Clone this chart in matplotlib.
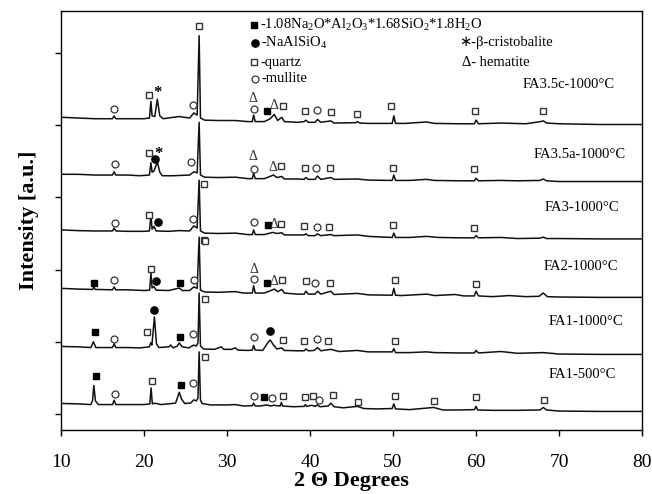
"""XRD patterns of fly-ash geopolymer samples (stacked traces, markers per phase)."""

import matplotlib
matplotlib.use("Agg")
import matplotlib.pyplot as plt

plt.rcParams["font.family"] = ["Liberation Serif", "DejaVu Sans"]
plt.rcParams["mathtext.default"] = "regular"

# --- traces: 2theta (deg) and stacked intensity (a.u.) ---
FA1_500_X = [10.0, 12.0, 13.6, 13.8, 13.95, 14.15, 14.5, 16.2, 16.4, 16.6, 18.0, 20.0, 20.7, 20.85,
             21.0, 21.3, 22.0, 23.0, 23.8, 24.1, 24.25, 24.5, 24.9, 25.6, 26.0, 26.3, 26.5, 26.64,
             26.8, 27.0, 28.0, 30.0, 31.0, 32.0, 33.05, 33.2, 33.4, 34.0, 34.8, 35.3, 35.6, 36.4,
             36.55, 36.7, 38.0, 39.3, 39.45, 39.6, 40.2, 40.6, 40.9, 41.2, 42.2, 42.5, 42.9, 44.0,
             45.7, 46.5, 48.0, 49.9, 50.1, 50.3, 52.0, 54.9, 56.0, 58.0, 59.8, 60.0, 60.2, 62.0,
             65.0, 67.7, 68.1, 68.5, 70.0, 75.0, 80.0]
FA1_500_Y = [0.145, 0.14, 0.13, 0.19, 0.395, 0.18, 0.13, 0.13, 0.19, 0.13, 0.13, 0.13, 0.14, 0.36,
             0.14, 0.15, 0.13, 0.14, 0.15, 0.25, 0.30, 0.21, 0.145, 0.15, 0.195, 0.18, 0.22, 0.86,
             0.19, 0.145, 0.125, 0.125, 0.13, 0.11, 0.115, 0.15, 0.11, 0.11, 0.125, 0.11, 0.12, 0.11,
             0.16, 0.11, 0.10, 0.105, 0.13, 0.105, 0.12, 0.105, 0.125, 0.10, 0.11, 0.15, 0.10, 0.085,
             0.105, 0.075, 0.07, 0.075, 0.14, 0.07, 0.06, 0.09, 0.055, 0.055, 0.06, 0.105, 0.055, 0.05,
             0.05, 0.055, 0.09, 0.055, 0.04, 0.035, 0.035]

FA1_1000_X = [10.0, 12.0, 13.6, 13.9, 14.2, 16.2, 16.4, 16.6, 18.0, 19.5, 20.65, 20.8, 20.95, 21.25,
              21.5, 21.8, 23.0, 23.2, 23.5, 24.0, 24.25, 24.6, 25.4, 26.0, 26.3, 26.5, 26.64, 26.8,
              27.2, 28.5, 29.3, 29.6, 30.5, 31.0, 31.3, 32.5, 33.05, 33.2, 33.4, 34.3, 34.9, 35.2,
              35.6, 36.0, 36.6, 36.9, 38.5, 39.3, 39.5, 39.8, 40.5, 40.9, 41.3, 42.5, 43.5, 45.7,
              47.0, 49.9, 50.1, 50.3, 52.0, 54.0, 55.0, 58.0, 59.8, 60.0, 60.3, 63.0, 65.0, 68.1,
              70.0, 75.0, 80.0]
FA1_1000_Y = [0.935, 0.93, 0.92, 1.00, 0.92, 0.92, 0.97, 0.92, 0.92, 0.915, 0.93, 0.985, 0.955, 1.345,
              0.97, 0.92, 0.93, 0.955, 0.915, 0.94, 0.985, 0.93, 0.915, 0.955, 0.94, 0.985, 1.675, 0.94,
              0.90, 0.895, 0.93, 0.895, 0.895, 0.915, 0.885, 0.88, 0.885, 0.95, 0.885, 0.88, 0.985, 1.025,
              0.955, 0.90, 0.915, 0.88, 0.875, 0.875, 0.90, 0.875, 0.88, 0.92, 0.875, 0.895, 0.865, 0.88,
              0.86, 0.86, 0.905, 0.85, 0.85, 0.86, 0.85, 0.845, 0.845, 0.88, 0.845, 0.865, 0.84, 0.85,
              0.83, 0.825, 0.825]

FA2_X = [10.0, 12.0, 13.8, 13.95, 14.1, 16.2, 16.4, 16.6, 18.0, 20.0, 20.68, 20.83, 20.97, 21.2,
         21.45, 23.0, 24.25, 24.6, 25.5, 26.0, 26.4, 26.64, 26.8, 27.3, 29.0, 30.0, 31.0, 32.0,
         33.05, 33.2, 33.4, 34.5, 35.3, 35.7, 36.1, 36.6, 36.9, 38.5, 39.3, 39.5, 39.8, 40.6, 40.9,
         41.3, 42.5, 42.9, 45.7, 47.0, 49.9, 50.1, 50.3, 51.0, 54.1, 55.0, 57.5, 58.5, 59.8, 60.0,
         60.3, 62.0, 64.0, 66.0, 67.6, 68.1, 68.6, 70.0, 75.0, 80.0]
FA2_Y = [1.74, 1.73, 1.725, 1.76, 1.725, 1.72, 1.76, 1.72, 1.72, 1.71, 1.715, 1.955, 1.745, 1.765,
         1.715, 1.71, 1.745, 1.71, 1.71, 1.76, 1.74, 2.45, 1.715, 1.69, 1.685, 1.69, 1.695, 1.675,
         1.675, 1.775, 1.675, 1.675, 1.71, 1.73, 1.695, 1.725, 1.675, 1.66, 1.66, 1.70, 1.66, 1.66, 1.70,
         1.66, 1.70, 1.655, 1.67, 1.65, 1.645, 1.74, 1.645, 1.64, 1.66, 1.64, 1.655, 1.635, 1.635, 1.70,
         1.635, 1.625, 1.64, 1.625, 1.63, 1.675, 1.625, 1.62, 1.615, 1.615]

FA3_X = [10.0, 12.0, 14.0, 16.2, 16.4, 16.6, 18.0, 20.0, 20.65, 20.83, 20.97, 21.2, 21.45, 23.0,
         24.2, 25.5, 26.0, 26.4, 26.64, 26.8, 27.3, 29.0, 31.0, 32.5, 33.05, 33.2, 33.4, 34.5, 35.5,
         36.0, 36.6, 36.9, 38.5, 39.3, 39.5, 39.8, 40.6, 40.9, 41.3, 42.5, 42.9, 45.7, 47.0, 49.9,
         50.1, 50.3, 52.0, 54.0, 55.5, 58.0, 59.8, 60.0, 60.3, 63.0, 65.0, 67.7, 68.1, 68.5, 70.0,
         75.0, 80.0]
FA3_Y = [2.55, 2.54, 2.535, 2.535, 2.575, 2.535, 2.53, 2.53, 2.535, 2.755, 2.56, 2.60, 2.535, 2.53,
         2.54, 2.535, 2.605, 2.575, 3.24, 2.535, 2.505, 2.50, 2.505, 2.485, 2.485, 2.55, 2.485, 2.485, 2.515,
         2.50, 2.51, 2.48, 2.48, 2.48, 2.495, 2.47, 2.47, 2.495, 2.47, 2.485, 2.47, 2.48, 2.46, 2.445,
         2.505, 2.445, 2.445, 2.46, 2.445, 2.44, 2.44, 2.47, 2.44, 2.445, 2.43, 2.435, 2.45, 2.43, 2.43,
         2.425, 2.425]

FA35A_X = [10.0, 12.0, 14.0, 16.2, 16.4, 16.6, 18.0, 19.5, 20.65, 20.83, 20.97, 21.2, 21.6, 21.9,
           22.2, 23.5, 25.5, 26.0, 26.4, 26.64, 26.8, 27.3, 29.0, 31.0, 32.5, 33.05, 33.2, 33.4, 34.5,
           35.6, 36.0, 36.6, 36.9, 38.5, 39.3, 39.5, 39.8, 40.6, 40.9, 41.3, 42.5, 42.9, 45.7, 47.0,
           49.9, 50.1, 50.3, 52.0, 54.0, 55.0, 58.0, 59.8, 60.0, 60.3, 63.0, 65.0, 67.7, 68.1, 68.5,
           70.0, 75.0, 80.0]
FA35A_Y = [3.32, 3.32, 3.31, 3.31, 3.355, 3.31, 3.31, 3.30, 3.31, 3.48, 3.35, 3.365, 3.49, 3.35,
           3.30, 3.30, 3.31, 3.355, 3.34, 4.04, 3.31, 3.28, 3.275, 3.28, 3.26, 3.26, 3.335, 3.26, 3.26,
           3.31, 3.275, 3.29, 3.255, 3.255, 3.25, 3.275, 3.25, 3.25, 3.295, 3.25, 3.275, 3.25, 3.255, 3.24,
           3.235, 3.31, 3.235, 3.235, 3.25, 3.235, 3.23, 3.23, 3.265, 3.23, 3.235, 3.23, 3.235, 3.255, 3.23,
           3.22, 3.22, 3.22]

FA35C_X = [10.0, 12.0, 14.0, 16.2, 16.4, 16.6, 18.0, 20.0, 20.65, 20.83, 20.97, 21.3, 21.6, 21.9,
           22.3, 24.2, 25.5, 26.0, 26.4, 26.64, 26.8, 27.3, 29.0, 31.0, 32.5, 33.05, 33.2, 33.4, 34.5,
           35.2, 35.7, 36.1, 36.6, 36.9, 38.5, 39.3, 39.5, 39.8, 40.6, 40.9, 41.3, 42.5, 42.9, 45.5,
           45.7, 46.0, 47.0, 49.9, 50.1, 50.3, 51.5, 54.0, 55.0, 58.0, 59.8, 60.0, 60.3, 63.0, 66.0,
           67.8, 68.1, 68.5, 70.0, 75.0, 80.0]
FA35C_Y = [4.11, 4.10, 4.09, 4.09, 4.13, 4.09, 4.09, 4.09, 4.10, 4.33, 4.13, 4.12, 4.36, 4.13,
           4.09, 4.12, 4.10, 4.17, 4.14, 5.24, 4.10, 4.07, 4.065, 4.065, 4.05, 4.05, 4.14, 4.05, 4.05,
           4.09, 4.15, 4.065, 4.11, 4.05, 4.04, 4.05, 4.07, 4.04, 4.04, 4.08, 4.04, 4.06, 4.03, 4.035,
           4.05, 4.03, 4.025, 4.025, 4.13, 4.025, 4.025, 4.045, 4.025, 4.02, 4.02, 4.07, 4.02, 4.03, 4.02,
           4.05, 4.06, 4.03, 4.02, 4.01, 4.01]

SAMPLE_NAMES = ["FA1-500°C", "FA1-1000°C", "FA2-1000°C", "FA3-1000°C", "FA3.5a-1000°C", "FA3.5c-1000°C"]

# phase marks above the peaks (2theta, stacked a.u.)
NA_ZEOLITE_MARKS = [(34.8, 4.19), (34.9, 2.62), (14.0, 1.82), (24.3, 1.82), (34.8, 1.82),
                    (14.1, 1.13), (24.3, 1.06), (14.2, 0.52), (24.5, 0.40), (34.5, 0.24)]
NEPHELINE_MARKS = [(21.3, 3.53), (21.7, 2.66), (21.4, 1.84), (21.2, 1.44), (35.2, 1.15)]
QUARTZ_MARKS = [(20.6, 4.42), (26.6, 5.38), (36.8, 4.26), (39.4, 4.20), (42.5, 4.18), (45.6, 4.16),
                (49.8, 4.26), (59.9, 4.20), (68.1, 4.20),
                (20.6, 3.61), (27.2, 3.18), (36.5, 3.43), (39.4, 3.41), (42.4, 3.41), (50.0, 3.41), (59.8, 3.39),
                (20.6, 2.76), (27.2, 2.41), (36.5, 2.63), (39.3, 2.61), (42.3, 2.59), (50.0, 2.62), (59.8, 2.57),
                (20.8, 2.01), (27.3, 2.40), (36.6, 1.85), (39.5, 1.84), (42.4, 1.82), (50.2, 1.86), (60.0, 1.80),
                (20.3, 1.14), (27.3, 1.59), (36.7, 1.02), (39.3, 1.01), (42.2, 1.01), (50.2, 1.01),
                (21.0, 0.46), (27.3, 0.79), (36.7, 0.25), (39.4, 0.23), (40.3, 0.25), (42.8, 0.26),
                (45.8, 0.17), (50.2, 0.25), (54.9, 0.18), (60.0, 0.23), (68.2, 0.19)]
MULLITE_MARKS = [(16.4, 4.22), (25.9, 4.28), (33.2, 4.23), (40.9, 4.21),
                 (16.5, 3.46), (25.6, 3.49), (33.2, 3.40), (40.7, 3.41),
                 (16.5, 2.64), (25.9, 2.70), (33.2, 2.66), (40.9, 2.59),
                 (16.4, 1.85), (26.0, 1.86), (33.3, 1.87), (40.6, 1.82),
                 (16.4, 1.04), (25.9, 1.11), (33.2, 1.06), (40.8, 1.04),
                 (16.5, 0.28), (25.9, 0.43), (33.2, 0.25), (35.4, 0.22), (41.1, 0.19)]
CRISTOBALITE_MARKS = [(21.6, 4.44), (21.8, 3.60)]
HEMATITE_MARKS = [(33.1, 4.37), (35.7, 4.28), (33.1, 3.56), (35.5, 3.41), (35.7, 2.62),
                  (33.2, 2.00), (35.7, 1.84)]

# label anchor for each trace (2theta, a.u.)
LABEL_POS = [(72.8, 0.55), (73.25, 1.28), (72.65, 2.04), (72.8, 2.86), (72.5, 3.59), (71.2, 4.57)]


def draw_marks(ax, marks, **style):
    xs = [m[0] for m in marks]
    ys = [m[1] for m in marks]
    ax.plot(xs, ys, linestyle="none", **style)


def main() -> None:
    fig = plt.figure(figsize=(6.52, 4.94), dpi=100)
    ax = fig.add_axes([0.0936, 0.1296, 0.8911, 0.8481])

    traces = [(FA1_500_X, FA1_500_Y), (FA1_1000_X, FA1_1000_Y), (FA2_X, FA2_Y),
              (FA3_X, FA3_Y), (FA35A_X, FA35A_Y), (FA35C_X, FA35C_Y)]
    for (xs, ys), name, (lx, ly) in zip(traces, SAMPLE_NAMES, LABEL_POS):
        ax.plot(xs, ys, color="#111111", linewidth=1.1)
        ax.text(lx, ly, name, ha="center", va="center", fontsize=10.5)

    filled_sq = dict(marker="s", ms=4.3, mfc="black", mec="black")
    filled_ci = dict(marker="o", ms=5.2, mfc="black", mec="black")
    open_sq = dict(marker="s", ms=4.4, mfc="white", mec="#333333", mew=1.0)
    open_ci = dict(marker="o", ms=5.0, mfc="white", mec="#333333", mew=0.9)

    draw_marks(ax, NA_ZEOLITE_MARKS, **filled_sq)
    draw_marks(ax, NEPHELINE_MARKS, **filled_ci)
    draw_marks(ax, QUARTZ_MARKS, **open_sq)
    draw_marks(ax, MULLITE_MARKS, **open_ci)
    for x, y in CRISTOBALITE_MARKS:
        ax.text(x, y, "*", ha="center", va="center", fontsize=12, fontweight="bold")
    for x, y in HEMATITE_MARKS:
        ax.text(x, y, "Δ", ha="center", va="center", fontsize=10, color="#333333")

    # phase legend (axes fraction)
    tr = ax.transAxes
    ax.plot([0.332], [0.967], transform=tr, **filled_sq)
    ax.plot([0.334], [0.924], transform=tr, **filled_ci)
    ax.plot([0.332], [0.878], transform=tr, **open_sq)
    ax.plot([0.334], [0.838], transform=tr, **open_ci)
    ax.text(0.343, 0.967, "-1.08Na$_2$O*Al$_2$O$_3$*1.68SiO$_2$*1.8H$_2$O", transform=tr,
            va="center", fontsize=10.5)
    ax.text(0.345, 0.924, "-NaAlSiO$_4$", transform=tr, va="center", fontsize=10.5)
    ax.text(0.343, 0.878, "-quartz", transform=tr, va="center", fontsize=10.5)
    ax.text(0.345, 0.838, "-mullite", transform=tr, va="center", fontsize=10.5)
    ax.text(0.686, 0.924, "∗-β-cristobalite", transform=tr, va="center", fontsize=10.5)
    ax.text(0.690, 0.877, "Δ- hematite", transform=tr, va="center", fontsize=10.5)

    ax.set_xlim(10, 80)
    ax.set_ylim(-0.222, 5.582)
    ax.set_xticks(range(10, 81, 10))
    ax.set_yticks(range(0, 6))
    ax.set_yticklabels([])
    ax.tick_params(direction="out", length=4.5, width=1.0, labelsize=14, pad=13)
    ax.tick_params(axis="y", pad=2)
    ax.tick_params(top=False, right=False)
    for sp in ax.spines.values():
        sp.set_linewidth(1.0)

    ax.set_xlabel("2 Θ Degrees", fontsize=16, fontweight="bold", labelpad=0)
    ax.set_ylabel("Intensity [a.u.]", fontsize=16, fontweight="bold", labelpad=9)

    fig.savefig("out.png", dpi=100)


if __name__ == "__main__":
    main()
